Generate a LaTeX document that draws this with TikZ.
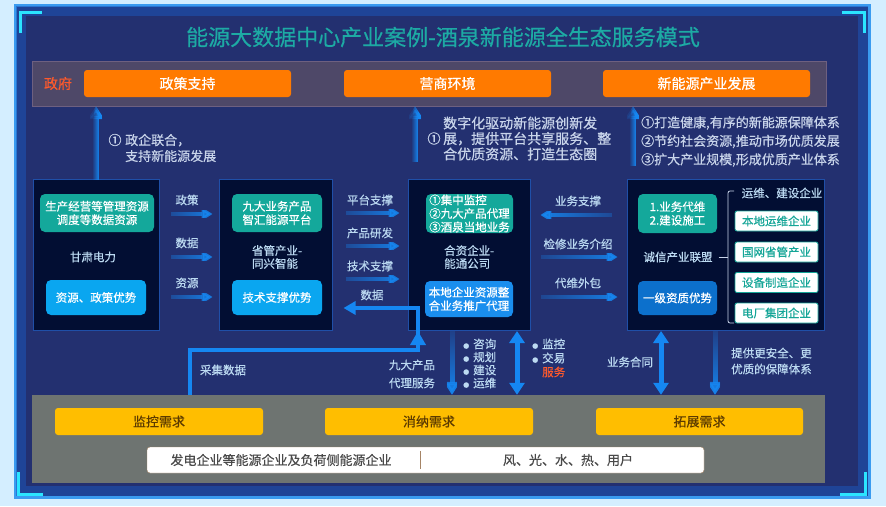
\documentclass[tikz,border=0pt]{standalone}
\usepackage{fontspec}
\setmainfont{Noto Sans CJK SC}[FakeBold=0.5]
\usepackage{tikz}
\usetikzlibrary{positioning}
\usetikzlibrary{shapes,calc,arrows.meta,fadings}
\definecolor{pagebg}{HTML}{D4EEFF}
\definecolor{frameline}{HTML}{3A9BF0}
\definecolor{framebg}{HTML}{233070}
\definecolor{frameglow}{HTML}{1D56B8}
\definecolor{cornerc}{HTML}{2BE4FF}
\definecolor{titlec}{HTML}{1DAAA4}
\definecolor{govfill}{HTML}{4E4868}
\definecolor{govline}{HTML}{6E6080}
\definecolor{hotc}{HTML}{FF7A00}
\definecolor{redtxt}{HTML}{FF5A2C}
\definecolor{unitfill}{HTML}{020E33}
\definecolor{unitline}{HTML}{1F4FA8}
\definecolor{tealc}{HTML}{14A89B}
\definecolor{skyc}{HTML}{0AA6F0}
\definecolor{bluec}{HTML}{1A8EEE}
\definecolor{deepc}{HTML}{0C70CC}
\definecolor{labc}{HTML}{BCDAF2}
\definecolor{notec}{HTML}{C8D4EA}
\definecolor{flowc}{HTML}{1587F2}
\definecolor{grayfill}{HTML}{6E7471}
\definecolor{needc}{HTML}{FFBE00}
\definecolor{needtxt}{HTML}{5C3B00}
\definecolor{striptxt}{HTML}{4A4A4A}
\definecolor{stripline}{HTML}{A58466}
\definecolor{firmc}{HTML}{14A597}
\tikzfading[name=tailfade, left color=transparent!85, right color=transparent!0]
\newcommand{\dotmark}{{\fontsize{6}{6}\selectfont ●}\hspace{4pt}}
\tikzset{
  govbar/.style = {rectangle, fill=govfill, draw=govline, minimum width=794pt, minimum height=45pt},
  hotbox/.style = {rectangle, rounded corners=3pt, fill=hotc, text=white, minimum width=207pt,
   minimum height=27pt, font=\fontsize{14}{16}\selectfont},
  unit/.style = {rectangle, fill=unitfill, draw=unitline, line width=1pt, minimum height=151pt},
  card/.style = {rectangle, rounded corners=5pt, text=white, align=center, inner sep=0pt,
   font=\fontsize{11.5}{13.5}\selectfont},
  tealbox/.style = {card, fill=tealc, minimum height=38pt},
  skybox/.style = {card, fill=skyc, minimum height=35pt},
  firm/.style = {rectangle, rounded corners=2pt, fill=white, draw=firmc, text=firmc, line width=.8pt,
   minimum width=83pt, minimum height=20pt, inner sep=0pt, font=\fontsize{11.5}{13}\selectfont},
  lab/.style = {text=labc, inner sep=1pt, align=left, font=\fontsize{11.5}{13}\selectfont},
  note/.style = {text=notec, inner sep=0pt, align=left, font=\fontsize{13}{16}\selectfont},
  need/.style = {rectangle, rounded corners=3pt, fill=needc, text=needtxt, minimum width=208pt,
   minimum height=27pt, font=\fontsize{13}{15}\selectfont},
  flow/.style = {draw=flowc, line width=3.5pt, -{Triangle[length=11pt,width=13pt]}, path fading=tailfade},
  bigflow/.style = {draw=flowc, line width=6pt, -{Triangle[length=13pt,width=16pt]}, path fading=tailfade},
  twoway/.style = {draw=flowc, line width=5pt, {Triangle[length=12pt,width=15pt]}-{Triangle[length=12pt,width=15pt]}},
  pipe/.style = {draw=flowc, line width=3.5pt},
  corner/.style = {draw=cornerc, line width=3pt},
  bracket/.style = {draw=notec, line width=.8pt},
}
\begin{document}
\begin{tikzpicture}[x=1pt, y=-1pt]
  \useasboundingbox (0,0) rectangle (886,506);
  \fill[pagebg] (0,0) rectangle (886,506);
  \draw[line width=3pt, draw=frameline, fill=framebg] (15,5) rectangle (869,497);
  \draw[line width=10pt, draw=frameglow, opacity=.55] (21,11) rectangle (863,491);
  \draw[corner] (20,33) -- (20,12) -- (42,12);
  \draw[corner] (842,12) -- (864,12) -- (864,33);
  \draw[corner] (18,472) -- (18,494) -- (43,494);
  \draw[corner] (840,494) -- (865,494) -- (865,472);

  \node (title) at (443,37) [text=titlec, font=\fontsize{22}{24}\selectfont]
    {能源大数据中心产业案例-酒泉新能源全生态服务模式};

  \node (gov) at (429,83.5) [govbar] {};
  \node (zf) at (58,83.5) [text=redtxt, font=\fontsize{14}{16}\selectfont] {政府};
  \node (policy) at (187.5,83.5) [hotbox] {政策支持};
  \node (biz) at (447.5,83.5) [hotbox] {营商环境};
  \node (newind) at (706.5,83.5) [hotbox] {新能源产业发展};

  \node (gs) at (96,254.5) [unit, minimum width=126pt] {};
  \node (tx) at (275.5,254.5) [unit, minimum width=113pt] {};
  \node (nt) at (469,255) [unit, minimum width=122pt] {};
  \node (cx) at (725.5,255) [unit, minimum width=197pt] {};

  \node (gsdata) at (97,213) [tealbox, minimum width=114pt] {生产经营等管理资源\\调度等数据资源};
  \node (gsname) at (93,257) [lab] {甘肃电力};
  \node (gsadv) at (96,297.5) [skybox, minimum width=100pt] {资源、政策优势};

  \node (txplat) at (277,213) [tealbox, minimum width=90pt] {九大业务产品\\智汇能源平台};
  \node (txname) at (277,257) [lab] {省管产业-\\同兴智能};
  \node (txadv) at (277,297.5) [skybox, minimum width=90pt] {技术支撑优势};

  \node (ntbiz) at (469.5,213.5) [tealbox, minimum width=87pt, minimum height=39pt, align=left]
    {①集中监控\\②九大产品代理\\③酒泉当地业务};
  \node (ntname) at (443,257) [lab, anchor=west] {合资企业-\\能通公司};
  \node (ntlocal) at (469,299) [card, fill=bluec, minimum width=88pt, minimum height=36pt]
    {本地企业资源整\\合业务推广代理};

  \node (cxwork) at (677.5,213.5) [tealbox, minimum width=79pt, minimum height=39pt] {1.业务代维\\2.建设施工};
  \node (cxname) at (678,257) [lab] {诚信产业联盟};
  \node (cxadv) at (677.5,298) [card, fill=deepc, minimum width=79pt, minimum height=34pt] {一级资质优势};
  \node (cxtype) at (782,193) [lab] {运维、建设企业};
  \node (cxa) at (776.5,221) [firm] {本地运维企业};
  \node (cxb) at (776.5,252) [firm] {国网省管产业};
  \node (cxc) at (776.5,282.5) [firm] {设备制造企业};
  \node (cxd) at (776.5,313) [firm] {电厂集团企业};
  \coordinate (brc) at (728,257);
  \draw[bracket] ([xshift=5pt]cxname.east) -- (brc);
  \draw[bracket, rounded corners=2pt] (734,191) -- (brc |- 0,191) -- (brc |- 0,323) -- (734,323);

  \draw[bigflow] ([yshift=-2pt]gs.north) -- (gs.north |- gov.south);
  \draw[bigflow] ([yshift=17pt]nt.north -| 415,0) -- (gov.south -| 415,0);
  \draw[bigflow] ([yshift=13pt]cx.north -| 633,0) -- (gov.south -| 633,0);
  \node (n1) at (115,140) [note] {①};
  \node (n1txt) at (125,148) [note, anchor=west] {政企联合，\\支持新能源发展};
  \node (n2) at (434,138.5) [note] {①};
  \node (n2txt) at (443,138.5) [note, anchor=west, font=\fontsize{14}{15.5}\selectfont]
    {数字化驱动新能源创新发\\展，提供平台共享服务、整\\合优质资源、打造生态圈};
  \node (n3txt) at (641,141.5) [note, anchor=west, font=\fontsize{13}{18.5}\selectfont]
    {①打造健康,有序的新能源保障体系\\②节约社会资源,推动市场优质发展\\③扩大产业规模,形成优质产业体系};

  \draw[flow, shorten <=11pt, shorten >=6pt] (gs.east |- 0,214) -- (tx.west |- 0,214);
  \draw[flow, shorten <=11pt, shorten >=6pt] (gs.east |- 0,257) -- (tx.west |- 0,257);
  \draw[flow, shorten <=11pt, shorten >=6pt] (gs.east |- 0,297) -- (tx.west |- 0,297);
  \node (l1) at (187,200) [lab] {政策};
  \node (l2) at (187,243) [lab] {数据};
  \node (l3) at (187,283) [lab] {资源};

  \draw[flow, shorten <=13pt, shorten >=8pt] (tx.east |- 0,213) -- (nt.west |- 0,213);
  \draw[flow, shorten <=13pt, shorten >=8pt] (tx.east |- 0,246) -- (nt.west |- 0,246);
  \draw[flow, shorten <=13pt, shorten >=8pt] (tx.east |- 0,279) -- (nt.west |- 0,279);
  \node (l4) at (370,200) [lab] {平台支撑};
  \node (l5) at (370,233) [lab] {产品研发};
  \node (l6) at (370,266) [lab] {技术支撑};

  \draw[flow, path fading=tailfade, fading angle=180, shorten <=14pt, shorten >=10pt]
    (cx.west |- 0,215) -- (nt.east |- 0,215);
  \draw[flow, shorten <=10pt, shorten >=9pt] (nt.east |- 0,257) -- (cx.west |- 0,257);
  \draw[flow, shorten <=10pt, shorten >=9pt] (nt.east |- 0,297) -- (cx.west |- 0,297);
  \node (l7) at (578,201) [lab] {业务支撑};
  \node (l8) at (578,244) [lab] {检修业务介绍};
  \node (l9) at (578,283) [lab] {代维外包};

  \node (demand) at (428.5,439) [rectangle, fill=grayfill, minimum width=793pt, minimum height=88pt] {};
  \node (jk) at (159,421.5) [need] {监控需求};
  \node (xn) at (429,421.5) [need] {消纳需求};
  \node (tz) at (699.5,421.5) [need, minimum width=207pt] {拓展需求};
  \node (ent) at (425.5,460) [rectangle, rounded corners=3pt, fill=white, draw=stripline,
    minimum width=557pt, minimum height=26pt] {};
  \node (entl) at (281,460) [text=striptxt, font=\fontsize{13}{15}\selectfont] {发电企业等能源企业及负荷侧能源企业};
  \node (entr) at (568,460) [text=striptxt, font=\fontsize{13}{15}\selectfont] {风、光、水、热、用户};
  \draw[stripline, line width=1pt] (420,451) -- (420,469);

  \coordinate (c1) at (190,350);
  \coordinate (c2) at (418,350);
  \coordinate (c3) at (418,308);
  \draw[pipe] (demand.north -| c1) -- (c1) -- (c2) -- (c2 |- nt.south);
  \draw[pipe, -{Triangle[length=14pt,width=15pt]}] (c2) -- (c2 |- nt.south);
  \draw[pipe, -{Triangle[length=12pt,width=13pt]}, shorten >=11pt] (c2 |- nt.south) -- (c3) -- (tx.east |- c3);
  \node (l10) at (372,295) [lab] {数据};
  \node (l11) at (223,370) [lab] {采集数据};
  \node (l12) at (412,374) [lab, font=\fontsize{11.5}{18}\selectfont] {九大产品\\代理服务};

  \draw[bigflow, line width=5pt, path fading=tailfade, fading angle=-90] (nt.south -| 452,0) -- (demand.north -| 452,0);
  \draw[twoway] (nt.south -| 517,0) -- (demand.north -| 517,0);
  \node (l13) at (462,363.5) [lab, anchor=west] {\dotmark 咨询\\\dotmark 规划\\\dotmark 建设\\\dotmark 运维};
  \node (l14) at (531,358) [lab, anchor=west, font=\fontsize{11.5}{14}\selectfont]
    {\dotmark 监控\\\dotmark 交易\\\phantom{\dotmark}\textcolor{redtxt}{服务}};

  \draw[twoway] (cx.south -| 661,0) -- (demand.north -| 661,0);
  \draw[bigflow, line width=5pt, path fading=tailfade, fading angle=-90] (cx.south -| 715,0) -- (demand.north -| 715,0);
  \node (l15) at (630,362) [lab] {业务合同};
  \node (l16) at (730,361) [lab, anchor=west, font=\fontsize{11.5}{16}\selectfont] {提供更安全、更\\优质的保障体系};
\end{tikzpicture}
\end{document}
